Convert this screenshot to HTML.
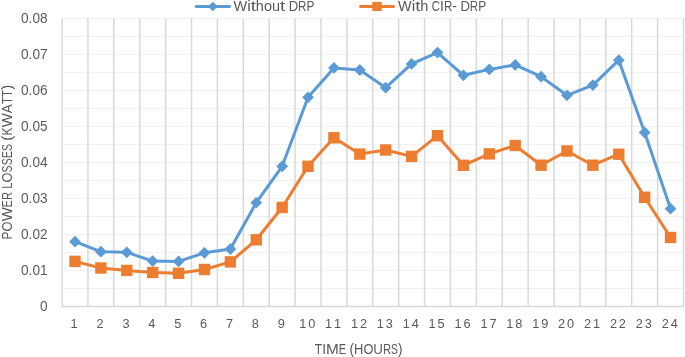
<!DOCTYPE html><html><head><meta charset="utf-8"><style>
html,body{margin:0;padding:0;background:#fff;width:685px;height:357px;overflow:hidden}
svg{display:block;font-family:"Liberation Sans",sans-serif;will-change:transform}
</style></head><body>
<svg width="685" height="357" viewBox="0 0 685 357">
<rect width="685" height="357" fill="#fff"/>
<line x1="62.05" y1="288.44" x2="683.5" y2="288.44" stroke="#F0F0F0" stroke-width="1"/>
<line x1="62.05" y1="270.44" x2="683.5" y2="270.44" stroke="#F0F0F0" stroke-width="1"/>
<line x1="62.05" y1="252.43" x2="683.5" y2="252.43" stroke="#F0F0F0" stroke-width="1"/>
<line x1="62.05" y1="234.43" x2="683.5" y2="234.43" stroke="#F0F0F0" stroke-width="1"/>
<line x1="62.05" y1="216.42" x2="683.5" y2="216.42" stroke="#F0F0F0" stroke-width="1"/>
<line x1="62.05" y1="198.41" x2="683.5" y2="198.41" stroke="#F0F0F0" stroke-width="1"/>
<line x1="62.05" y1="180.41" x2="683.5" y2="180.41" stroke="#F0F0F0" stroke-width="1"/>
<line x1="62.05" y1="162.40" x2="683.5" y2="162.40" stroke="#F0F0F0" stroke-width="1"/>
<line x1="62.05" y1="144.39" x2="683.5" y2="144.39" stroke="#F0F0F0" stroke-width="1"/>
<line x1="62.05" y1="126.39" x2="683.5" y2="126.39" stroke="#F0F0F0" stroke-width="1"/>
<line x1="62.05" y1="108.38" x2="683.5" y2="108.38" stroke="#F0F0F0" stroke-width="1"/>
<line x1="62.05" y1="90.38" x2="683.5" y2="90.38" stroke="#F0F0F0" stroke-width="1"/>
<line x1="62.05" y1="72.37" x2="683.5" y2="72.37" stroke="#F0F0F0" stroke-width="1"/>
<line x1="62.05" y1="54.36" x2="683.5" y2="54.36" stroke="#F0F0F0" stroke-width="1"/>
<line x1="62.05" y1="36.36" x2="683.5" y2="36.36" stroke="#F0F0F0" stroke-width="1"/>
<line x1="62.05" y1="18.35" x2="683.5" y2="18.35" stroke="#F0F0F0" stroke-width="1"/>
<line x1="87.94" y1="18.35" x2="87.94" y2="306.45" stroke="#D9D9D9" stroke-width="1.5"/>
<line x1="113.84" y1="18.35" x2="113.84" y2="306.45" stroke="#D9D9D9" stroke-width="1.5"/>
<line x1="139.73" y1="18.35" x2="139.73" y2="306.45" stroke="#D9D9D9" stroke-width="1.5"/>
<line x1="165.62" y1="18.35" x2="165.62" y2="306.45" stroke="#D9D9D9" stroke-width="1.5"/>
<line x1="191.52" y1="18.35" x2="191.52" y2="306.45" stroke="#D9D9D9" stroke-width="1.5"/>
<line x1="217.41" y1="18.35" x2="217.41" y2="306.45" stroke="#D9D9D9" stroke-width="1.5"/>
<line x1="243.31" y1="18.35" x2="243.31" y2="306.45" stroke="#D9D9D9" stroke-width="1.5"/>
<line x1="269.20" y1="18.35" x2="269.20" y2="306.45" stroke="#D9D9D9" stroke-width="1.5"/>
<line x1="295.09" y1="18.35" x2="295.09" y2="306.45" stroke="#D9D9D9" stroke-width="1.5"/>
<line x1="320.99" y1="18.35" x2="320.99" y2="306.45" stroke="#D9D9D9" stroke-width="1.5"/>
<line x1="346.88" y1="18.35" x2="346.88" y2="306.45" stroke="#D9D9D9" stroke-width="1.5"/>
<line x1="372.78" y1="18.35" x2="372.78" y2="306.45" stroke="#D9D9D9" stroke-width="1.5"/>
<line x1="398.67" y1="18.35" x2="398.67" y2="306.45" stroke="#D9D9D9" stroke-width="1.5"/>
<line x1="424.56" y1="18.35" x2="424.56" y2="306.45" stroke="#D9D9D9" stroke-width="1.5"/>
<line x1="450.46" y1="18.35" x2="450.46" y2="306.45" stroke="#D9D9D9" stroke-width="1.5"/>
<line x1="476.35" y1="18.35" x2="476.35" y2="306.45" stroke="#D9D9D9" stroke-width="1.5"/>
<line x1="502.24" y1="18.35" x2="502.24" y2="306.45" stroke="#D9D9D9" stroke-width="1.5"/>
<line x1="528.14" y1="18.35" x2="528.14" y2="306.45" stroke="#D9D9D9" stroke-width="1.5"/>
<line x1="554.03" y1="18.35" x2="554.03" y2="306.45" stroke="#D9D9D9" stroke-width="1.5"/>
<line x1="579.92" y1="18.35" x2="579.92" y2="306.45" stroke="#D9D9D9" stroke-width="1.5"/>
<line x1="605.82" y1="18.35" x2="605.82" y2="306.45" stroke="#D9D9D9" stroke-width="1.5"/>
<line x1="631.71" y1="18.35" x2="631.71" y2="306.45" stroke="#D9D9D9" stroke-width="1.5"/>
<line x1="657.61" y1="18.35" x2="657.61" y2="306.45" stroke="#D9D9D9" stroke-width="1.5"/>
<line x1="683.50" y1="18.35" x2="683.50" y2="306.45" stroke="#D9D9D9" stroke-width="1.5"/>
<line x1="62.05" y1="18.35" x2="62.05" y2="306.45" stroke="#D9D9D9" stroke-width="1.5"/>
<line x1="62.05" y1="306.45" x2="683.5" y2="306.45" stroke="#D9D9D9" stroke-width="1.5"/>
<g font-size="14.0" fill="#595959" text-anchor="middle"><text transform="translate(43.80 311.35) scale(0.976 1)">0</text></g>
<g font-size="14.0" fill="#595959" text-anchor="middle"><text transform="translate(24.81 275.34) scale(0.976 1)">0</text><text transform="translate(30.50 275.34) scale(0.974 1)">.</text><text transform="translate(36.20 275.34) scale(0.976 1)">0</text><text transform="translate(43.80 275.34) scale(0.976 1)">1</text></g>
<g font-size="14.0" fill="#595959" text-anchor="middle"><text transform="translate(24.81 239.33) scale(0.976 1)">0</text><text transform="translate(30.50 239.33) scale(0.974 1)">.</text><text transform="translate(36.20 239.33) scale(0.976 1)">0</text><text transform="translate(43.80 239.33) scale(0.976 1)">2</text></g>
<g font-size="14.0" fill="#595959" text-anchor="middle"><text transform="translate(24.81 203.31) scale(0.976 1)">0</text><text transform="translate(30.50 203.31) scale(0.974 1)">.</text><text transform="translate(36.20 203.31) scale(0.976 1)">0</text><text transform="translate(43.80 203.31) scale(0.976 1)">3</text></g>
<g font-size="14.0" fill="#595959" text-anchor="middle"><text transform="translate(24.81 167.30) scale(0.976 1)">0</text><text transform="translate(30.50 167.30) scale(0.974 1)">.</text><text transform="translate(36.20 167.30) scale(0.976 1)">0</text><text transform="translate(43.80 167.30) scale(0.976 1)">4</text></g>
<g font-size="14.0" fill="#595959" text-anchor="middle"><text transform="translate(24.81 131.29) scale(0.976 1)">0</text><text transform="translate(30.50 131.29) scale(0.974 1)">.</text><text transform="translate(36.20 131.29) scale(0.976 1)">0</text><text transform="translate(43.80 131.29) scale(0.976 1)">5</text></g>
<g font-size="14.0" fill="#595959" text-anchor="middle"><text transform="translate(24.81 95.28) scale(0.976 1)">0</text><text transform="translate(30.50 95.28) scale(0.974 1)">.</text><text transform="translate(36.20 95.28) scale(0.976 1)">0</text><text transform="translate(43.80 95.28) scale(0.976 1)">6</text></g>
<g font-size="14.0" fill="#595959" text-anchor="middle"><text transform="translate(24.81 59.26) scale(0.976 1)">0</text><text transform="translate(30.50 59.26) scale(0.974 1)">.</text><text transform="translate(36.20 59.26) scale(0.976 1)">0</text><text transform="translate(43.80 59.26) scale(0.976 1)">7</text></g>
<g font-size="14.0" fill="#595959" text-anchor="middle"><text transform="translate(24.81 23.25) scale(0.976 1)">0</text><text transform="translate(30.50 23.25) scale(0.974 1)">.</text><text transform="translate(36.20 23.25) scale(0.976 1)">0</text><text transform="translate(43.80 23.25) scale(0.976 1)">8</text></g>
<g font-size="13.0" fill="#595959" text-anchor="middle"><text transform="translate(74.15 328.40) scale(0.981 1)">1</text></g>
<g font-size="13.0" fill="#595959" text-anchor="middle"><text transform="translate(100.04 328.40) scale(0.981 1)">2</text></g>
<g font-size="13.0" fill="#595959" text-anchor="middle"><text transform="translate(125.93 328.40) scale(0.981 1)">3</text></g>
<g font-size="13.0" fill="#595959" text-anchor="middle"><text transform="translate(151.83 328.40) scale(0.981 1)">4</text></g>
<g font-size="13.0" fill="#595959" text-anchor="middle"><text transform="translate(177.72 328.40) scale(0.981 1)">5</text></g>
<g font-size="13.0" fill="#595959" text-anchor="middle"><text transform="translate(203.62 328.40) scale(0.981 1)">6</text></g>
<g font-size="13.0" fill="#595959" text-anchor="middle"><text transform="translate(229.51 328.40) scale(0.981 1)">7</text></g>
<g font-size="13.0" fill="#595959" text-anchor="middle"><text transform="translate(255.40 328.40) scale(0.981 1)">8</text></g>
<g font-size="13.0" fill="#595959" text-anchor="middle"><text transform="translate(281.30 328.40) scale(0.981 1)">9</text></g>
<g font-size="13.0" fill="#595959" text-anchor="middle"><text transform="translate(302.69 328.40) scale(0.981 1)">1</text><text transform="translate(311.69 328.40) scale(0.981 1)">0</text></g>
<g font-size="13.0" fill="#595959" text-anchor="middle"><text transform="translate(328.59 328.40) scale(0.981 1)">1</text><text transform="translate(337.58 328.40) scale(0.981 1)">1</text></g>
<g font-size="13.0" fill="#595959" text-anchor="middle"><text transform="translate(354.48 328.40) scale(0.981 1)">1</text><text transform="translate(363.48 328.40) scale(0.981 1)">2</text></g>
<g font-size="13.0" fill="#595959" text-anchor="middle"><text transform="translate(380.37 328.40) scale(0.981 1)">1</text><text transform="translate(389.37 328.40) scale(0.981 1)">3</text></g>
<g font-size="13.0" fill="#595959" text-anchor="middle"><text transform="translate(406.27 328.40) scale(0.981 1)">1</text><text transform="translate(415.26 328.40) scale(0.981 1)">4</text></g>
<g font-size="13.0" fill="#595959" text-anchor="middle"><text transform="translate(432.16 328.40) scale(0.981 1)">1</text><text transform="translate(441.16 328.40) scale(0.981 1)">5</text></g>
<g font-size="13.0" fill="#595959" text-anchor="middle"><text transform="translate(458.06 328.40) scale(0.981 1)">1</text><text transform="translate(467.05 328.40) scale(0.981 1)">6</text></g>
<g font-size="13.0" fill="#595959" text-anchor="middle"><text transform="translate(483.95 328.40) scale(0.981 1)">1</text><text transform="translate(492.94 328.40) scale(0.981 1)">7</text></g>
<g font-size="13.0" fill="#595959" text-anchor="middle"><text transform="translate(509.84 328.40) scale(0.981 1)">1</text><text transform="translate(518.84 328.40) scale(0.981 1)">8</text></g>
<g font-size="13.0" fill="#595959" text-anchor="middle"><text transform="translate(535.74 328.40) scale(0.981 1)">1</text><text transform="translate(544.73 328.40) scale(0.981 1)">9</text></g>
<g font-size="13.0" fill="#595959" text-anchor="middle"><text transform="translate(561.63 328.40) scale(0.981 1)">2</text><text transform="translate(570.63 328.40) scale(0.981 1)">0</text></g>
<g font-size="13.0" fill="#595959" text-anchor="middle"><text transform="translate(587.52 328.40) scale(0.981 1)">2</text><text transform="translate(596.52 328.40) scale(0.981 1)">1</text></g>
<g font-size="13.0" fill="#595959" text-anchor="middle"><text transform="translate(613.42 328.40) scale(0.981 1)">2</text><text transform="translate(622.41 328.40) scale(0.981 1)">2</text></g>
<g font-size="13.0" fill="#595959" text-anchor="middle"><text transform="translate(639.31 328.40) scale(0.981 1)">2</text><text transform="translate(648.31 328.40) scale(0.981 1)">3</text></g>
<g font-size="13.0" fill="#595959" text-anchor="middle"><text transform="translate(665.21 328.40) scale(0.981 1)">2</text><text transform="translate(674.20 328.40) scale(0.981 1)">4</text></g>
<g font-size="14.0" fill="#595959" text-anchor="middle"><text transform="translate(318.52 354.00) scale(0.855 1)">T</text><text transform="translate(324.07 354.00) scale(0.972 1)">I</text><text transform="translate(332.37 354.00) scale(1.100 1)">M</text><text transform="translate(342.44 354.00) scale(0.784 1)">E</text><text transform="translate(351.77 354.00) scale(0.976 1)">(</text><text transform="translate(358.72 354.00) scale(0.924 1)">H</text><text transform="translate(368.36 354.00) scale(0.912 1)">O</text><text transform="translate(378.13 354.00) scale(0.952 1)">U</text><text transform="translate(387.02 354.00) scale(0.806 1)">R</text><text transform="translate(394.54 354.00) scale(0.738 1)">S</text><text transform="translate(400.26 354.00) scale(0.976 1)">)</text></g>
<g transform="translate(11.7 162.2) rotate(-90)"><g font-size="14.0" fill="#595959" text-anchor="middle"><text transform="translate(-73.42 0.00) scale(0.857 1)">P</text><text transform="translate(-64.27 0.00) scale(0.918 1)">O</text><text transform="translate(-52.12 0.00) scale(1.059 1)">W</text><text transform="translate(-41.47 0.00) scale(0.750 1)">E</text><text transform="translate(-33.82 0.00) scale(0.791 1)">R</text><text transform="translate(-23.52 0.00) scale(0.771 1)">L</text><text transform="translate(-15.38 0.00) scale(0.918 1)">O</text><text transform="translate(-6.72 0.00) scale(0.750 1)">S</text><text transform="translate(0.43 0.00) scale(0.750 1)">S</text><text transform="translate(7.58 0.00) scale(0.750 1)">E</text><text transform="translate(14.73 0.00) scale(0.750 1)">S</text><text transform="translate(24.02 0.00) scale(1.072 1)">(</text><text transform="translate(30.67 0.00) scale(0.857 1)">K</text><text transform="translate(41.82 0.00) scale(1.059 1)">W</text><text transform="translate(53.47 0.00) scale(0.964 1)">A</text><text transform="translate(61.62 0.00) scale(0.819 1)">T</text><text transform="translate(68.77 0.00) scale(0.819 1)">T</text><text transform="translate(74.92 0.00) scale(1.072 1)">)</text></g></g>
<polyline points="75.00,241.70 100.89,251.70 126.78,252.30 152.68,261.10 178.57,261.40 204.47,252.80 230.36,249.00 256.25,202.70 282.15,166.30 308.04,97.30 333.93,67.90 359.83,70.00 385.72,87.70 411.62,63.90 437.51,52.60 463.40,75.30 489.30,69.40 515.19,64.90 541.08,76.70 566.98,95.30 592.87,85.10 618.77,60.20 644.66,132.50 670.55,208.70" fill="none" stroke="#5B9BD5" stroke-width="3.0" stroke-linejoin="round" stroke-linecap="round"/>
<polyline points="75.00,261.40 100.89,268.00 126.78,270.40 152.68,272.50 178.57,273.30 204.47,269.50 230.36,261.90 256.25,239.80 282.15,207.50 308.04,166.30 333.93,137.80 359.83,154.10 385.72,150.00 411.62,156.40 437.51,135.70 463.40,165.30 489.30,153.90 515.19,145.50 541.08,165.20 566.98,151.00 592.87,165.20 618.77,154.20 644.66,197.30 670.55,237.50" fill="none" stroke="#ED7D31" stroke-width="3.0" stroke-linejoin="round" stroke-linecap="round"/>
<path d="M75.00 235.80L80.90 241.70L75.00 247.60L69.10 241.70Z" fill="#5B9BD5"/>
<path d="M100.89 245.80L106.79 251.70L100.89 257.60L94.99 251.70Z" fill="#5B9BD5"/>
<path d="M126.78 246.40L132.68 252.30L126.78 258.20L120.88 252.30Z" fill="#5B9BD5"/>
<path d="M152.68 255.20L158.58 261.10L152.68 267.00L146.78 261.10Z" fill="#5B9BD5"/>
<path d="M178.57 255.50L184.47 261.40L178.57 267.30L172.67 261.40Z" fill="#5B9BD5"/>
<path d="M204.47 246.90L210.37 252.80L204.47 258.70L198.57 252.80Z" fill="#5B9BD5"/>
<path d="M230.36 243.10L236.26 249.00L230.36 254.90L224.46 249.00Z" fill="#5B9BD5"/>
<path d="M256.25 196.80L262.15 202.70L256.25 208.60L250.35 202.70Z" fill="#5B9BD5"/>
<path d="M282.15 160.40L288.05 166.30L282.15 172.20L276.25 166.30Z" fill="#5B9BD5"/>
<path d="M308.04 91.40L313.94 97.30L308.04 103.20L302.14 97.30Z" fill="#5B9BD5"/>
<path d="M333.93 62.00L339.83 67.90L333.93 73.80L328.03 67.90Z" fill="#5B9BD5"/>
<path d="M359.83 64.10L365.73 70.00L359.83 75.90L353.93 70.00Z" fill="#5B9BD5"/>
<path d="M385.72 81.80L391.62 87.70L385.72 93.60L379.82 87.70Z" fill="#5B9BD5"/>
<path d="M411.62 58.00L417.52 63.90L411.62 69.80L405.72 63.90Z" fill="#5B9BD5"/>
<path d="M437.51 46.70L443.41 52.60L437.51 58.50L431.61 52.60Z" fill="#5B9BD5"/>
<path d="M463.40 69.40L469.30 75.30L463.40 81.20L457.50 75.30Z" fill="#5B9BD5"/>
<path d="M489.30 63.50L495.20 69.40L489.30 75.30L483.40 69.40Z" fill="#5B9BD5"/>
<path d="M515.19 59.00L521.09 64.90L515.19 70.80L509.29 64.90Z" fill="#5B9BD5"/>
<path d="M541.08 70.80L546.98 76.70L541.08 82.60L535.18 76.70Z" fill="#5B9BD5"/>
<path d="M566.98 89.40L572.88 95.30L566.98 101.20L561.08 95.30Z" fill="#5B9BD5"/>
<path d="M592.87 79.20L598.77 85.10L592.87 91.00L586.97 85.10Z" fill="#5B9BD5"/>
<path d="M618.77 54.30L624.67 60.20L618.77 66.10L612.87 60.20Z" fill="#5B9BD5"/>
<path d="M644.66 126.60L650.56 132.50L644.66 138.40L638.76 132.50Z" fill="#5B9BD5"/>
<path d="M670.55 202.80L676.45 208.70L670.55 214.60L664.65 208.70Z" fill="#5B9BD5"/>
<rect x="69.30" y="255.70" width="11.4" height="11.4" fill="#ED7D31"/>
<rect x="95.19" y="262.30" width="11.4" height="11.4" fill="#ED7D31"/>
<rect x="121.08" y="264.70" width="11.4" height="11.4" fill="#ED7D31"/>
<rect x="146.98" y="266.80" width="11.4" height="11.4" fill="#ED7D31"/>
<rect x="172.87" y="267.60" width="11.4" height="11.4" fill="#ED7D31"/>
<rect x="198.77" y="263.80" width="11.4" height="11.4" fill="#ED7D31"/>
<rect x="224.66" y="256.20" width="11.4" height="11.4" fill="#ED7D31"/>
<rect x="250.55" y="234.10" width="11.4" height="11.4" fill="#ED7D31"/>
<rect x="276.45" y="201.80" width="11.4" height="11.4" fill="#ED7D31"/>
<rect x="302.34" y="160.60" width="11.4" height="11.4" fill="#ED7D31"/>
<rect x="328.23" y="132.10" width="11.4" height="11.4" fill="#ED7D31"/>
<rect x="354.13" y="148.40" width="11.4" height="11.4" fill="#ED7D31"/>
<rect x="380.02" y="144.30" width="11.4" height="11.4" fill="#ED7D31"/>
<rect x="405.92" y="150.70" width="11.4" height="11.4" fill="#ED7D31"/>
<rect x="431.81" y="130.00" width="11.4" height="11.4" fill="#ED7D31"/>
<rect x="457.70" y="159.60" width="11.4" height="11.4" fill="#ED7D31"/>
<rect x="483.60" y="148.20" width="11.4" height="11.4" fill="#ED7D31"/>
<rect x="509.49" y="139.80" width="11.4" height="11.4" fill="#ED7D31"/>
<rect x="535.38" y="159.50" width="11.4" height="11.4" fill="#ED7D31"/>
<rect x="561.28" y="145.30" width="11.4" height="11.4" fill="#ED7D31"/>
<rect x="587.17" y="159.50" width="11.4" height="11.4" fill="#ED7D31"/>
<rect x="613.07" y="148.50" width="11.4" height="11.4" fill="#ED7D31"/>
<rect x="638.96" y="191.60" width="11.4" height="11.4" fill="#ED7D31"/>
<rect x="664.85" y="231.80" width="11.4" height="11.4" fill="#ED7D31"/>
<line x1="196.2" y1="6.5" x2="229.5" y2="6.5" stroke="#5B9BD5" stroke-width="2.9" stroke-linecap="round"/>
<path d="M212.85 1.75L217.65 6.55L212.85 11.35L208.04999999999998 6.55Z" fill="#5B9BD5"/>
<g font-size="14.0" fill="#595959" text-anchor="middle"><text transform="translate(240.33 10.50) scale(1.033 1)">W</text><text transform="translate(248.92 10.50) scale(1.133 1)">i</text><text transform="translate(253.25 10.50) scale(1.322 1)">t</text><text transform="translate(259.85 10.50) scale(1.036 1)">h</text><text transform="translate(267.93 10.50) scale(1.040 1)">o</text><text transform="translate(276.01 10.50) scale(1.036 1)">u</text><text transform="translate(282.62 10.50) scale(1.322 1)">t</text><text transform="translate(293.38 10.50) scale(0.934 1)">D</text><text transform="translate(302.27 10.50) scale(0.824 1)">R</text><text transform="translate(310.40 10.50) scale(0.849 1)">P</text></g>
<line x1="360.5" y1="6.45" x2="393.5" y2="6.45" stroke="#ED7D31" stroke-width="2.9" stroke-linecap="round"/>
<rect x="372.25" y="1.85" width="9.5" height="9.2" fill="#ED7D31"/>
<g font-size="14.0" fill="#595959" text-anchor="middle"><text transform="translate(404.83 10.50) scale(1.033 1)">W</text><text transform="translate(413.42 10.50) scale(1.133 1)">i</text><text transform="translate(417.75 10.50) scale(1.322 1)">t</text><text transform="translate(424.35 10.50) scale(1.036 1)">h</text><text transform="translate(435.95 10.50) scale(0.810 1)">C</text><text transform="translate(441.97 10.50) scale(0.994 1)">I</text><text transform="translate(448.07 10.50) scale(0.824 1)">R</text><text transform="translate(454.59 10.50) scale(1.008 1)">-</text><text transform="translate(465.13 10.50) scale(0.934 1)">D</text><text transform="translate(474.02 10.50) scale(0.824 1)">R</text><text transform="translate(482.16 10.50) scale(0.849 1)">P</text></g>
</svg></body></html>
